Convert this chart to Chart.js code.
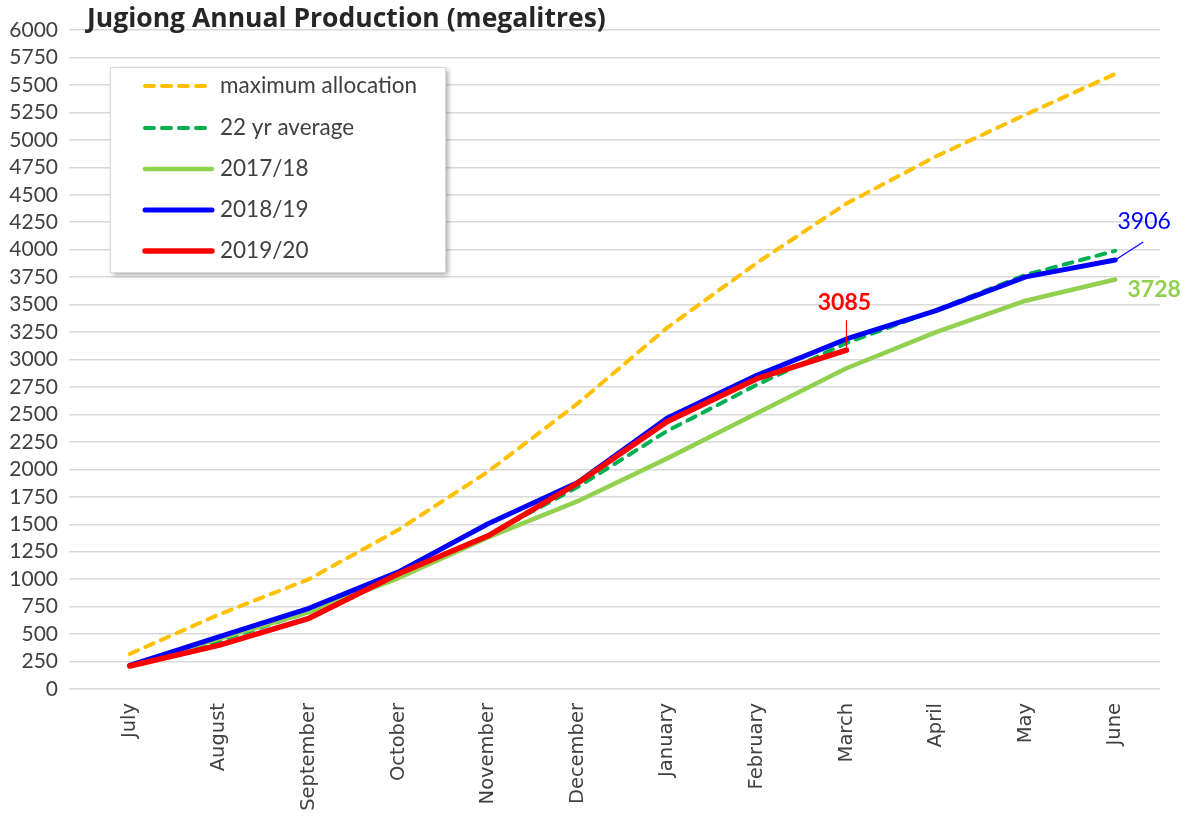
<!DOCTYPE html>
<html>
<head>
<meta charset="utf-8">
<script src="https://cdn.jsdelivr.net/npm/chart.js@4/dist/chart.umd.min.js"></script>
<style>
html,body{margin:0;padding:0;background:#fff;}
#wrap{width:1190px;height:819px;position:relative;}
</style>
</head>
<body>
<div id="wrap"><canvas id="c" width="1190" height="819"></canvas></div>
<script>
const titleText = 'Jugiong Annual Production (megalitres)';
const categories = ['July','August','September','October','November','December','January','February','March','April','May','June'];
const seriesNames = ['maximum allocation','22 yr average','2017/18','2018/19','2019/20'];
const maxAllocation = [320, 680, 1000, 1450, 1980, 2600, 3290, 3880, 4420, 4850, 5230, 5600];
const avg22 = [215, 440, 700, 1040, 1400, 1840, 2350, 2770, 3150, 3450, 3770, 3990];
const y2017 = [220, 460, 700, 1010, 1380, 1710, 2100, 2510, 2920, 3250, 3535, 3728];
const y2018 = [215, 476, 735, 1066, 1505, 1880, 2467, 2856, 3187, 3445, 3752, 3906];
const y2019 = [209, 400, 644, 1050, 1395, 1875, 2436, 2825, 3085];
const yMin = 0, yMax = 6000, yStep = 250;

const colors = ['#FFC000','#00B050','#92D050','#0000FF','#FF0000'];
const widths = [4,4,4.5,5,5.5];
const dashes = [[9,8],[9,8],[],[],[]];

const datasets = [maxAllocation, avg22, y2017, y2018, y2019].map((d,i)=>({
  label: seriesNames[i],
  data: d,
  borderColor: colors[i],
  backgroundColor: colors[i],
  borderWidth: widths[i],
  borderDash: dashes[i],
  borderCapStyle: 'round',
  borderJoinStyle: 'round',
  pointRadius: 0,
  tension: 0,
  fill: false,
  order: 4 - i
}));

const titlePlugin = {
  id: 'titleP',
  afterDraw(chart){
    const ctx = chart.ctx;
    ctx.save();
    ctx.font = 'bold 26.5px "Open Sans"';
    ctx.fillStyle = '#262626';
    ctx.textBaseline = 'middle';
    ctx.textAlign = 'left';
    ctx.fillText(titleText, 87, 19);
    ctx.restore();
  }
};

const legendPlugin = {
  id: 'legendP',
  afterDatasetsDraw(chart){
    const ctx = chart.ctx;
    ctx.save();
    const bx = 110, by = 67, bw = 335, bh = 205;
    ctx.shadowColor = 'rgba(0,0,0,0.35)';
    ctx.shadowBlur = 5;
    ctx.shadowOffsetX = 3;
    ctx.shadowOffsetY = 3;
    ctx.fillStyle = '#fff';
    ctx.fillRect(bx, by, bw, bh);
    ctx.shadowColor = 'transparent';
    ctx.strokeStyle = '#d9d9d9';
    ctx.lineWidth = 1;
    ctx.strokeRect(bx+0.5, by+0.5, bw, bh);
    const rows = [86,128,169,210,251];
    seriesNames.forEach((n,i)=>{
      const y = rows[i];
      ctx.beginPath();
      ctx.setLineDash(dashes[i]);
      ctx.lineCap = 'round';
      ctx.strokeStyle = colors[i];
      ctx.lineWidth = widths[i];
      ctx.moveTo(145, y);
      ctx.lineTo(212, y);
      ctx.stroke();
      ctx.setLineDash([]);
      ctx.font = '22.5px Lato';
      ctx.fillStyle = '#404040';
      ctx.textBaseline = 'middle';
      ctx.textAlign = 'left';
      ctx.fillText(n, 220, y);
    });
    ctx.restore();
  }
};

const labelPlugin = {
  id: 'labelP',
  afterDatasetsDraw(chart){
    const ctx = chart.ctx;
    ctx.save();
    const mRed = chart.getDatasetMeta(4), mBlue = chart.getDatasetMeta(3), mGreen = chart.getDatasetMeta(2);
    const pr = mRed.data[y2019.length-1];
    const pb = mBlue.data[y2018.length-1];
    const pg = mGreen.data[y2017.length-1];
    ctx.strokeStyle = '#FF0000'; ctx.lineWidth = 1.2;
    ctx.beginPath(); ctx.moveTo(pr.x, pr.y); ctx.lineTo(pr.x, pr.y-30); ctx.stroke();
    ctx.font = 'bold 23px Lato'; ctx.fillStyle = '#FF0000';
    ctx.textAlign = 'center'; ctx.textBaseline = 'middle';
    ctx.fillText(String(y2019[y2019.length-1]), pr.x-2, pr.y-48);
    ctx.strokeStyle = '#0000FF';
    ctx.beginPath(); ctx.moveTo(pb.x, pb.y); ctx.lineTo(pb.x+28, pb.y-18); ctx.stroke();
    ctx.font = '23px Lato'; ctx.fillStyle = '#0000FF';
    ctx.fillText(String(y2018[y2018.length-1]), pb.x+29, pb.y-38);
    ctx.font = 'bold 23px Lato'; ctx.fillStyle = '#92D050';
    ctx.fillText(String(y2017[y2017.length-1]), pg.x+39, pg.y+10);
    ctx.restore();
  }
};

new Chart(document.getElementById('c'), {
  type: 'line',
  data: { labels: categories, datasets },
  plugins: [titlePlugin, legendPlugin, labelPlugin],
  options: {
    responsive: false,
    animation: false,
    events: [],
    layout: { padding: { top: 30, right: 30, left: 0, bottom: 0 } },
    plugins: { legend: { display: false }, title: { display: false }, tooltip: { enabled: false } },
    scales: {
      x: {
        offset: true,
        grid: { display: false, drawTicks: false },
        border: { display: false },
        ticks: { minRotation: 90, maxRotation: 90, autoSkip: false, padding: 14,
          font: { family: 'DejaVu Sans', size: 19.5 }, color: '#404040' },
        afterFit(s){ s.height = 130; }
      },
      y: {
        min: yMin, max: yMax,
        grid: { color: '#d9d9d9', lineWidth: 1.5, tickLength: 16, tickColor: '#d9d9d9' },
        border: { display: false },
        ticks: { stepSize: yStep, autoSkip: false, padding: 11,
          callback: v => String(v),
          font: { family: 'Lato', size: 21 }, color: '#404040' },
        afterFit(s){ s.width = 85; }
      }
    }
  }
});
</script>
</body>
</html>
